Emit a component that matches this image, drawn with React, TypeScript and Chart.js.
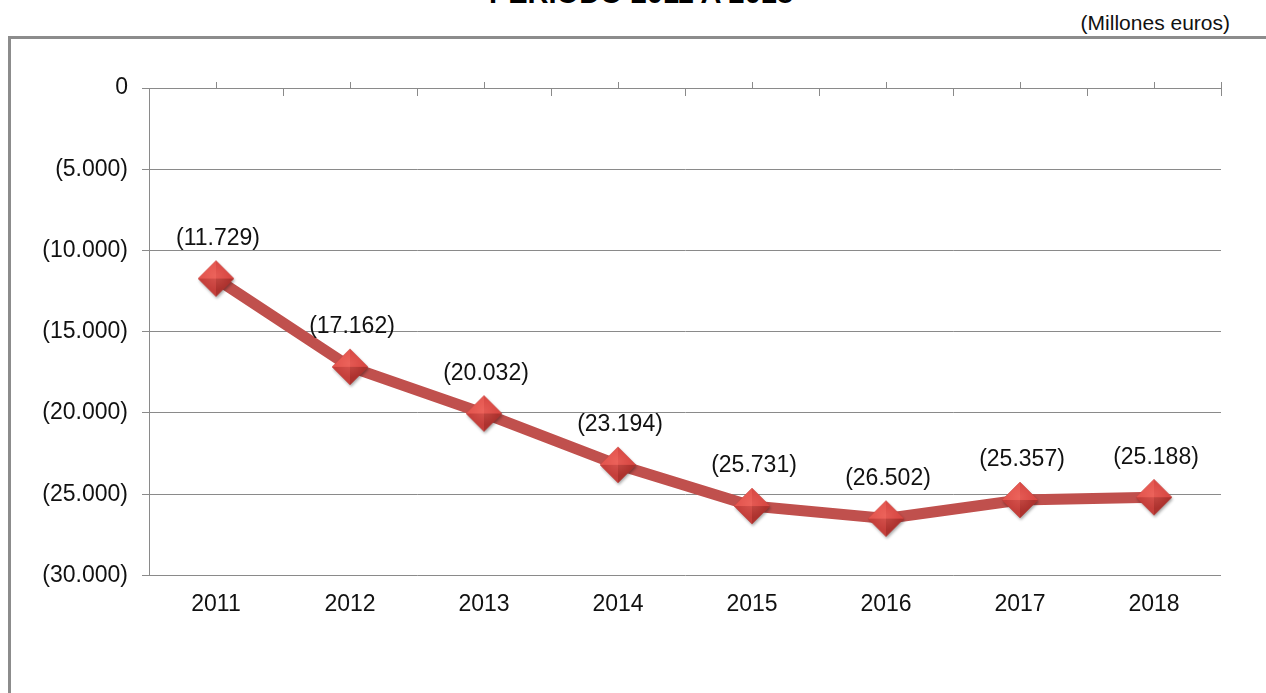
import React, { useEffect, useRef } from "react";
import { Chart, registerables } from "chart.js";

Chart.register(...registerables);

// ---- data ----
const years: string[] = ["2011", "2012", "2013", "2014", "2015", "2016", "2017", "2018"];
const saldo: number[] = [-11729, -17162, -20032, -23194, -25731, -26502, -25357, -25188];
const yMin = -30000;
const yMax = 0;
const yStep = 5000;
const titleText = "PERIODO 2011 A 2018";
const unitText = "(Millones euros)";

const FONT = "'Liberation Sans', Arial, sans-serif";
const GRID = "#8a8a8a";

function fmt(v: number): string {
  if (v === 0) return "0";
  const s = String(Math.abs(v)).replace(/\B(?=(\d{3})+(?!\d))/g, ".");
  return v < 0 ? `(${s})` : s;
}

function makeDiamond(): HTMLCanvasElement {
  const size = 48;
  const c = document.createElement("canvas");
  c.width = size;
  c.height = size;
  const ctx = c.getContext("2d")!;
  const cx = size / 2;
  const cy = size / 2;
  const r = 18;
  const path = () => {
    ctx.beginPath();
    ctx.moveTo(cx, cy - r);
    ctx.lineTo(cx + r, cy);
    ctx.lineTo(cx, cy + r);
    ctx.lineTo(cx - r, cy);
    ctx.closePath();
  };
  ctx.save();
  ctx.shadowColor = "rgba(0,0,0,0.35)";
  ctx.shadowBlur = 3;
  ctx.shadowOffsetX = 1;
  ctx.shadowOffsetY = 2;
  path();
  ctx.fillStyle = "#b53a36";
  ctx.fill();
  ctx.restore();
  const facet = (x1: number, y1: number, x2: number, y2: number, col: string) => {
    ctx.beginPath();
    ctx.moveTo(cx, cy);
    ctx.lineTo(x1, y1);
    ctx.lineTo(x2, y2);
    ctx.closePath();
    ctx.fillStyle = col;
    ctx.fill();
  };
  facet(cx, cy - r, cx - r, cy, "#e4564f");
  facet(cx, cy - r, cx + r, cy, "#d84843");
  facet(cx - r, cy, cx, cy + r, "#c53f3b");
  facet(cx + r, cy, cx, cy + r, "#ad322e");
  const g = ctx.createRadialGradient(cx, cy - 3, 0, cx, cy - 3, r * 0.8);
  g.addColorStop(0, "rgba(255,130,120,0.3)");
  g.addColorStop(1, "rgba(255,130,120,0)");
  path();
  ctx.fillStyle = g;
  ctx.fill();
  return c;
}

const topTicksPlugin = {
  id: "topTicks",
  afterDraw(chart: any) {
    const { ctx, chartArea, scales } = chart;
    const x = scales.x;
    const n = years.length;
    ctx.save();
    ctx.strokeStyle = GRID;
    ctx.lineWidth = 1;
    const top = chartArea.top;
    for (let i = 0; i <= n; i++) {
      const px = Math.round(x.getPixelForValue(i - 0.5)) + 0.5;
      ctx.beginPath();
      ctx.moveTo(px, i === n ? top - 6 : top);
      ctx.lineTo(px, top + 8);
      ctx.stroke();
    }
    for (let i = 0; i < n; i++) {
      const px = Math.round(x.getPixelForValue(i)) + 0.5;
      ctx.beginPath();
      ctx.moveTo(px, top - 6);
      ctx.lineTo(px, top);
      ctx.stroke();
    }
    ctx.restore();
  },
};

const labelsPlugin = {
  id: "pointLabels",
  afterDatasetsDraw(chart: any) {
    const { ctx } = chart;
    const meta = chart.getDatasetMeta(0);
    const data = chart.data.datasets[0].data as number[];
    ctx.save();
    ctx.font = `23px ${FONT}`;
    ctx.fillStyle = "#111";
    ctx.textAlign = "center";
    ctx.textBaseline = "middle";
    meta.data.forEach((pt: any, i: number) => {
      ctx.fillText(fmt(data[i]), pt.x + 2, pt.y - 40);
    });
    ctx.restore();
  },
};

export default function App() {
  const ref = useRef<HTMLCanvasElement | null>(null);

  useEffect(() => {
    if (!ref.current) return;
    const diamond = makeDiamond();
    const chart = new Chart(ref.current, {
      type: "line",
      data: {
        labels: years,
        datasets: [
          {
            data: saldo,
            borderColor: "#c0504d",
            borderWidth: 11,
            borderJoinStyle: "round",
            borderCapStyle: "round",
            tension: 0,
            pointStyle: diamond as any,
            pointRadius: 18,
            pointHoverRadius: 18,
            fill: false,
          },
        ],
      },
      options: {
        responsive: false,
        animation: false,
        events: [],
        layout: { padding: { left: 0, top: 88, right: 45, bottom: 60 } },
        plugins: {
          legend: { display: false },
          title: { display: false },
          tooltip: { enabled: false },
        },
        scales: {
          x: {
            type: "category",
            offset: true,
            grid: { display: false, drawTicks: false },
            border: { display: false },
            ticks: {
              color: "#111",
              font: { family: FONT, size: 23 },
              padding: 15,
              maxRotation: 0,
            },
          },
          y: {
            min: yMin,
            max: yMax,
            afterFit(scale: any) {
              scale.width = 149;
            },
            grid: { color: GRID, lineWidth: 1, drawTicks: true, tickLength: 7 },
            border: { display: true, color: GRID, width: 1 },
            ticks: {
              stepSize: yStep,
              color: "#111",
              font: { family: FONT, size: 23 },
              padding: 14,
              callback: (v: any) => fmt(Number(v)),
            },
          },
        },
      },
      plugins: [topTicksPlugin, labelsPlugin],
    });
    return () => chart.destroy();
  }, []);

  return (
    <div
      style={{
        position: "absolute",
        left: 0,
        top: 0,
        width: 1266,
        height: 693,
        overflow: "hidden",
        background: "#fff",
        fontFamily: FONT,
      }}
    >
      <div
        style={{
          position: "absolute",
          left: 8,
          top: 36,
          width: 1400,
          height: 800,
          borderLeft: "3px solid #8c8c8c",
          borderTop: "3px solid #8c8c8c",
        }}
      />
      <div
        style={{
          position: "absolute",
          left: 8,
          top: -21,
          width: 1266,
          textAlign: "center",
          fontWeight: "bold",
          fontSize: 29,
          lineHeight: "29px",
          color: "#000",
          whiteSpace: "nowrap",
        }}
      >
        {titleText}
      </div>
      <div
        style={{
          position: "absolute",
          right: 36,
          top: 12,
          fontSize: 21,
          lineHeight: "21px",
          color: "#111",
          whiteSpace: "nowrap",
        }}
      >
        {unitText}
      </div>
      <canvas
        ref={ref}
        width={1266}
        height={693}
        style={{ position: "absolute", left: 0, top: 0, width: 1266, height: 693 }}
      />
    </div>
  );
}
